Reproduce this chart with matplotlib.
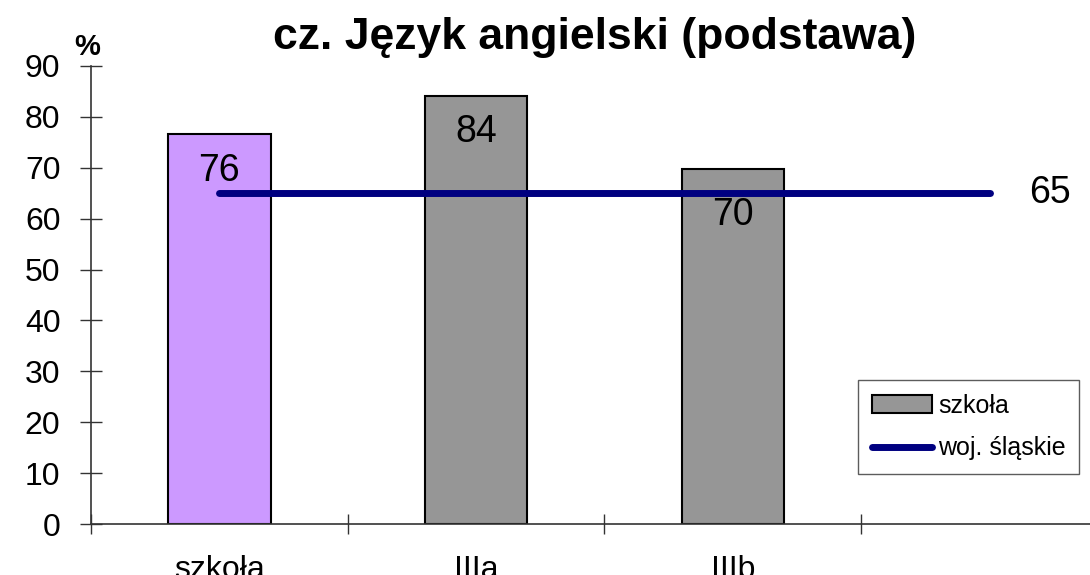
import matplotlib.pyplot as plt
from matplotlib.patches import Patch
from matplotlib.lines import Line2D

plt.rcParams['font.family'] = ['Liberation Sans', 'DejaVu Sans']

# data
categories = ["szkoła", "IIIa", "IIIb"]
values = [76.6, 84.1, 69.8]
value_labels = ["76", "84", "70"]
label_heights = [69.3, 77.0, 60.8]
woj_x = [0, 1, 2, 3]
woj_vals = [65, 65, 65, 65]
woj_label = "65"
bar_colors = ["#CC99FF", "#969696", "#969696"]
yticks = [0, 10, 20, 30, 40, 50, 60, 70, 80, 90]

fig = plt.figure(figsize=(10.9, 5.75), dpi=100)
ax = fig.add_axes([91 / 1090, 51 / 575, 1027 / 1090, 458 / 575])

x = list(range(len(categories)))
ax.bar(x, values, width=0.4, color=bar_colors, edgecolor="black", linewidth=1.5, zorder=2)
ax.plot(woj_x, woj_vals, color="#000080", linewidth=5, solid_capstyle="round", zorder=3)

for xi, lab, h in zip(x, value_labels, label_heights):
    ax.text(xi, h, lab, ha="center", va="center", fontsize=27, zorder=4)
ax.text(3.235, woj_vals[-1], woj_label, ha="center", va="center", fontsize=27)

ax.set_xlim(-0.5, 3.5)
ax.set_ylim(0, 90)
ax.set_yticks(yticks)
ax.tick_params(axis="y", direction="inout", length=16, width=1, labelsize=23, pad=14, color="#333333")
ax.set_xticks(x)
ax.set_xticklabels(categories, fontsize=23)
ax.tick_params(axis="x", which="major", length=0, pad=22)
ax.set_xticks([-0.5, 0.5, 1.5, 2.5], minor=True)
ax.tick_params(axis="x", which="minor", direction="inout", length=15, width=1, color="#333333")

for s in ["top", "right"]:
    ax.spines[s].set_visible(False)
for s in ["left", "bottom"]:
    ax.spines[s].set_color("#333333")
    ax.spines[s].set_linewidth(1.2)

fig.text(87 / 1090, 1 - 47 / 575, "%", ha="center", va="center", fontsize=21, fontweight="bold")
fig.text(595 / 1090, 1 - 37 / 575, "cz. Język angielski (podstawa)", ha="center", va="center",
         fontsize=32, fontweight="bold")

handles = [Patch(facecolor="#969696", edgecolor="black", linewidth=1.5),
           Line2D([0], [0], color="#000080", linewidth=5, solid_capstyle="round")]
leg = fig.legend(handles, ["szkoła", "woj. śląskie"], loc="upper left",
                 bbox_to_anchor=(858 / 1090, 1 - 380 / 575), fontsize=18, frameon=True,
                 fancybox=False, handlelength=2.4, handletextpad=0.25, borderpad=0.55,
                 labelspacing=0.75, borderaxespad=0)
leg.get_frame().set_edgecolor("#333333")
leg.get_frame().set_linewidth(1)

fig.savefig("out.png", dpi=100)
